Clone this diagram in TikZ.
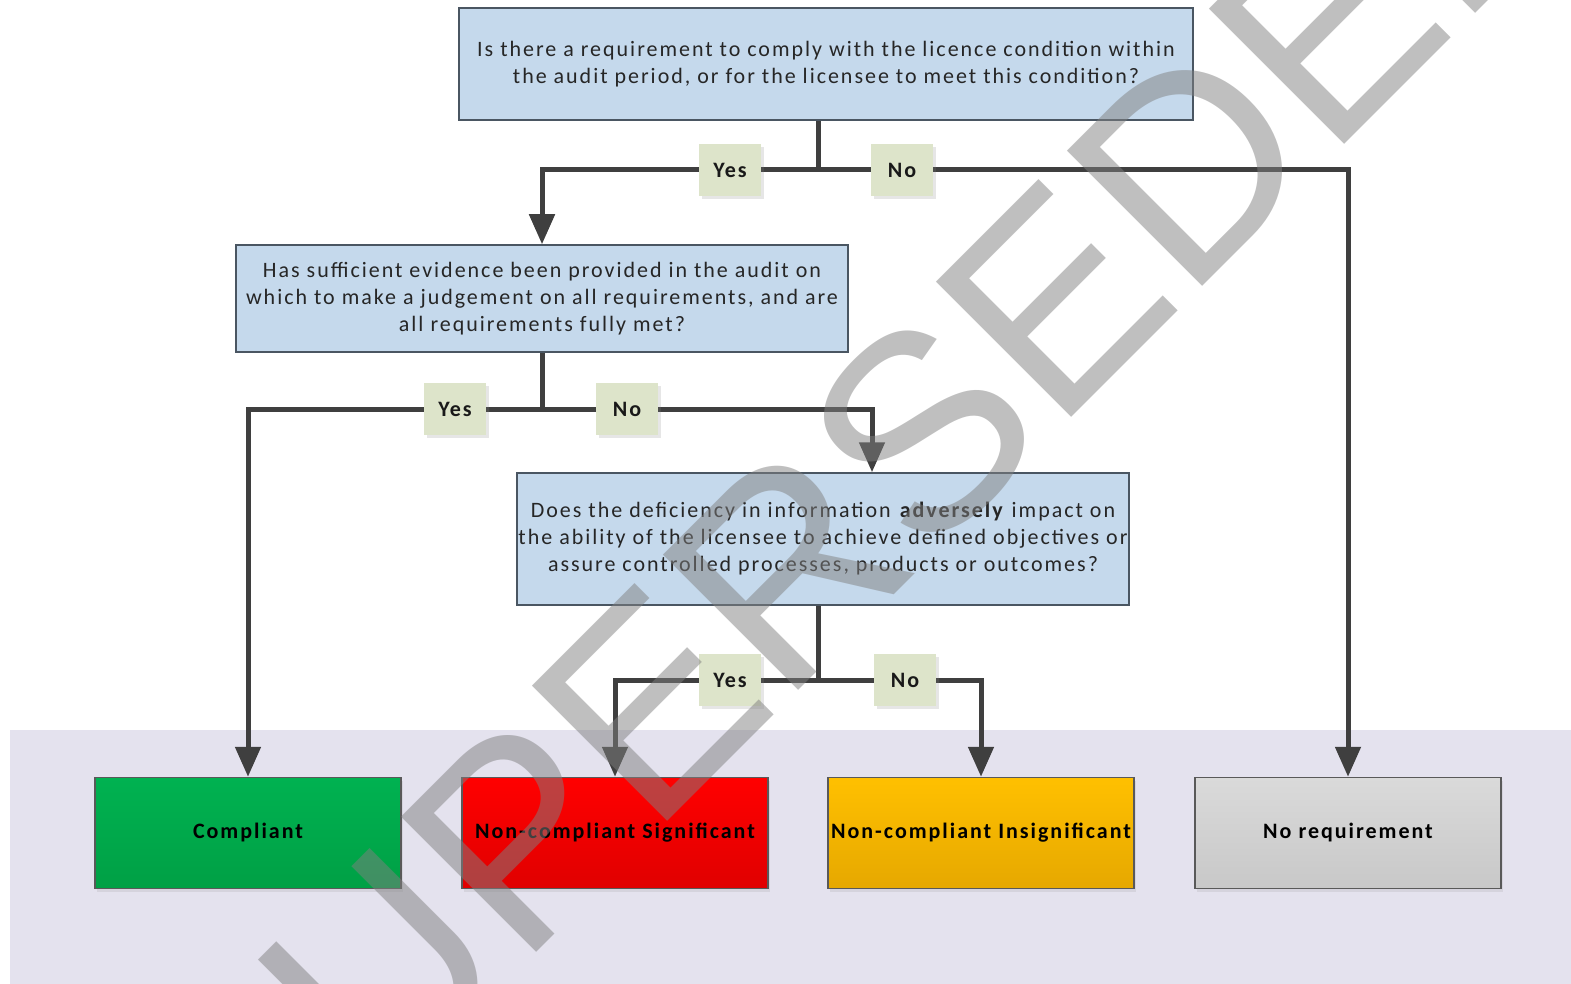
\documentclass[tikz,border=0pt]{standalone}
\usepackage{fontspec}
\setmainfont{Carlito}[LetterSpace=9]
\newfontfamily\stampfont{Liberation Sans}
\usetikzlibrary{arrows.meta,calc,shadows}
\definecolor{qblue}{HTML}{C5D9EC}
\definecolor{qedge}{HTML}{4A5662}
\definecolor{tagfill}{HTML}{DDE4CA}
\definecolor{wire}{HTML}{3F3F3F}
\definecolor{band}{HTML}{E4E2EE}
\definecolor{greentop}{HTML}{00B251}
\definecolor{greenbot}{HTML}{00A045}
\definecolor{redtop}{HTML}{FF0000}
\definecolor{redbot}{HTML}{E00000}
\definecolor{ambertop}{HTML}{FFC000}
\definecolor{amberbot}{HTML}{E6A800}
\definecolor{greytop}{HTML}{DADADA}
\definecolor{greybot}{HTML}{C8C8C8}
\begin{document}
\begin{tikzpicture}[x=1pt,y=-1pt,
  question/.style={draw=qedge, line width=1.5pt, fill=qblue, align=center,
    minimum width=612pt, minimum height=107pt, inner sep=0pt,
    font=\fontsize{22}{27}\selectfont, text=black!85},
  outcome/.style={draw=black!65, line width=1.5pt, minimum width=306pt,
    minimum height=111pt, inner sep=0pt, font=\fontsize{22}{27}\selectfont\bfseries,
    drop shadow={shadow xshift=2pt, shadow yshift=-3pt, opacity=0.15}},
  tag/.style={fill=tagfill, minimum width=62pt, minimum height=52pt, inner sep=0pt,
    font=\fontsize{22}{27}\selectfont\bfseries, text=black!90,
    drop shadow={shadow xshift=3pt, shadow yshift=-3pt, opacity=0.2}},
  link/.style={draw=wire, line width=5pt},
  flow/.style={link, -{Triangle[length=30pt,width=25pt]}}]
\useasboundingbox (0,0) rectangle (1571,984);
\fill[band] (10,730) rectangle (1571,984);
% questions
\node[question, minimum width=734pt, minimum height=112pt] (q1) at (826,64)
  {Is there a requirement to comply with the licence condition within\\the audit period, or for the licensee to meet this condition?};
\node[question] (q2) at (542,298.5)
  {Has sufficient evidence been provided in the audit on\\which to make a judgement on all requirements, and are\\all requirements fully met?};
\node[question, minimum height=132pt] (q3) at (823,539)
  {Does the deficiency in information \textbf{adversely} impact on\\the ability of the licensee to achieve defined objectives or\\assure controlled processes, products or outcomes?};
% outcomes
\node[outcome, top color=greentop, bottom color=greenbot] (comp) at (248,833) {Compliant};
\node[outcome, top color=redtop, bottom color=redbot] (sig) at (615,833) {Non-compliant Significant};
\node[outcome, top color=ambertop, bottom color=amberbot] (insig) at (981,833) {Non-compliant Insignificant};
\node[outcome, top color=greytop, bottom color=greybot] (none) at (1348,833) {No requirement};
% junctions
\coordinate (j1) at (818,170);
\coordinate (j2) at (542,409);
\coordinate (j3) at (818,680);
\draw[link] (q1.south -| j1) -- (j1);
\draw[flow] (j1) -| (q2.north);
\draw[flow] (j1) -| (none.north);
\draw[link] (q2.south) -- (j2);
\draw[flow] (j2) -| (comp.north);
\draw[flow] (j2) -| ($(q3.north)+(49,0)$);
\draw[link] (q3.south -| j3) -- (j3);
\draw[flow] (j3) -| (sig.north);
\draw[flow] (j3) -| (insig.north);
% answers
\node[tag] (yes1) at (730,170) {Yes};
\node[tag] (no1) at (902,170) {No};
\node[tag] (yes2) at (455,409) {Yes};
\node[tag] (no2) at (627,409) {No};
\node[tag] (yes3) at (730,680) {Yes};
\node[tag] (no3) at (905,680) {No};
% stamp
\node[rotate=45, anchor=base west, inner sep=0pt, text=black!50, text opacity=0.5,
  font=\fontsize{278}{278}\selectfont\stampfont] (stamp) at (247,1242) {SUPERSEDED};
\end{tikzpicture}
\end{document}
